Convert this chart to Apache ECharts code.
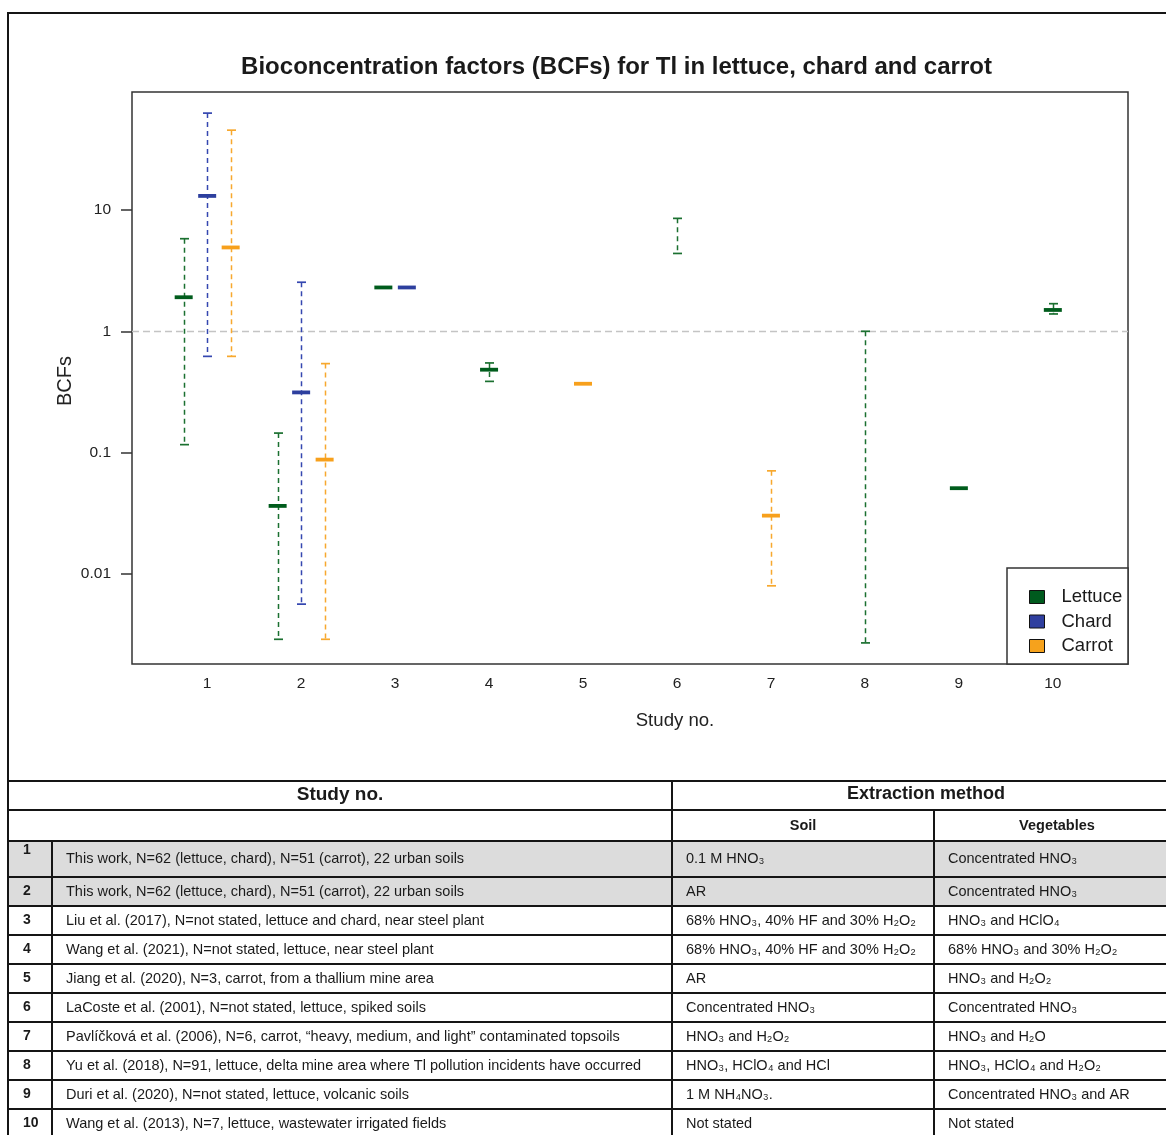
<!DOCTYPE html>
<html><head><meta charset="utf-8">
<script src="https://cdn.jsdelivr.net/npm/echarts@6/dist/echarts.min.js"></script>
<style>html,body{margin:0;padding:0;background:#fff}#c{width:1166px;height:1135px}</style>
</head><body><div id="c"></div>
<script>
// ---------------- DATA ----------------
const chartTitle = 'Bioconcentration factors (BCFs) for Tl in lettuce, chard and carrot';
const xAxisTitle = 'Study no.';
const yAxisTitle = 'BCFs';
const xTicks = [1, 2, 3, 4, 5, 6, 7, 8, 9, 10];
const yTicks = [0.01, 0.1, 1, 10];
const yTickLabels = ['0.01', '0.1', '1', '10'];
const seriesNames = ['Lettuce', 'Chard', 'Carrot'];

// position on the study axis, then low / central / high BCF (null = not reported)
const lettuceX    = [0.75, 1.75, 2.875, 4, 6, 8, 9, 10];
const lettuceLow  = [0.116, 0.00287, null, 0.386, 4.39, 0.00268, null, 1.39];
const lettuceMid  = [1.91, 0.0362, 2.30, 0.482, null, null, 0.0507, 1.50];
const lettuceHigh = [5.81, 0.1445, null, 0.548, 8.55, 1.0, null, 1.69];

const chardX    = [1, 2, 3.125];
const chardLow  = [0.621, 0.0056, null];
const chardMid  = [13.1, 0.313, 2.30];
const chardHigh = [63.2, 2.54, null];

const carrotX    = [1.25, 2.25, 5, 7];
const carrotLow  = [0.621, 0.00287, null, 0.00793];
const carrotMid  = [4.92, 0.0873, 0.369, 0.0301];
const carrotHigh = [45.7, 0.541, null, 0.0705];

const refLine = 1;

// table
const tableHeaderLeft = 'Study no.';
const tableHeaderRight = 'Extraction method';
const subHeaders = ['Soil', 'Vegetables'];
const studyNos = ['1', '2', '3', '4', '5', '6', '7', '8', '9', '10'];
const studyDesc = [
  'This work, N=62 (lettuce, chard), N=51 (carrot), 22 urban soils',
  'This work, N=62 (lettuce, chard), N=51 (carrot), 22 urban soils',
  'Liu et al. (2017), N=not stated, lettuce and chard, near steel plant',
  'Wang et al. (2021), N=not stated, lettuce, near steel plant',
  'Jiang et al. (2020), N=3, carrot, from a thallium mine area',
  'LaCoste et al. (2001), N=not stated, lettuce, spiked soils',
  'Pavlíčková et al. (2006), N=6, carrot, \u201Cheavy, medium, and light\u201D contaminated topsoils',
  'Yu et al. (2018), N=91, lettuce, delta mine area where Tl pollution incidents have occurred',
  'Duri et al. (2020), N=not stated, lettuce, volcanic soils',
  'Wang et al. (2013), N=7, lettuce, wastewater irrigated fields'
];
const soilMethod = [
  '0.1 M HNO₃', 'AR', '68% HNO₃, 40% HF and 30% H₂O₂', '68% HNO₃, 40% HF and 30% H₂O₂',
  'AR', 'Concentrated HNO₃', 'HNO₃ and H₂O₂', 'HNO₃, HClO₄ and HCl', '1 M NH₄NO₃.', 'Not stated'
];
const vegMethod = [
  'Concentrated HNO₃', 'Concentrated HNO₃', 'HNO₃ and HClO₄', '68% HNO₃ and 30% H₂O₂',
  'HNO₃ and H₂O₂', 'Concentrated HNO₃', 'HNO₃ and H₂O', 'HNO₃, HClO₄ and H₂O₂',
  'Concentrated HNO₃ and AR', 'Not stated'
];
const shadedRows = [0, 1];

// ---------------- STYLE / LAYOUT ----------------
const FONT = '"Liberation Sans", Arial, Helvetica, sans-serif';
const colors = {
  Lettuce: { bar: '#005c1c', whisker: '#1b7030', legend: '#005a1e' },
  Chard:   { bar: '#2d3f9e', whisker: '#3547b0', legend: '#2f3f9f' },
  Carrot:  { bar: '#f7a01c', whisker: '#f7a82e', legend: '#f6a21c' }
};

function pack(xs, lo, mid, hi) {
  return xs.map((x, i) => [x,
    lo[i] == null ? '-' : lo[i],
    mid[i] == null ? '-' : mid[i],
    hi[i] == null ? '-' : hi[i]]);
}

function makeRender(c) {
  return function (params, api) {
    const x = api.value(0), lo = api.value(1), mid = api.value(2), hi = api.value(3);
    const ch = [];
    if (!isNaN(lo) && !isNaN(hi)) {
      const pL = api.coord([x, lo]), pH = api.coord([x, hi]);
      const cx = Math.round(pL[0]) + 0.5;
      ch.push({ type: 'line', shape: { x1: cx, y1: pH[1], x2: cx, y2: pL[1] },
        style: { stroke: c.whisker, lineWidth: 1.5, lineDash: [5, 4], fill: null } });
      ch.push({ type: 'line', shape: { x1: cx - 4.5, y1: pH[1], x2: cx + 4.5, y2: pH[1] },
        style: { stroke: c.whisker, lineWidth: 1.7, fill: null } });
      ch.push({ type: 'line', shape: { x1: cx - 4.5, y1: pL[1], x2: cx + 4.5, y2: pL[1] },
        style: { stroke: c.whisker, lineWidth: 1.7, fill: null } });
    }
    if (!isNaN(mid)) {
      const p = api.coord([x, mid]);
      ch.push({ type: 'line', shape: { x1: p[0] - 9, y1: p[1], x2: p[0] + 9, y2: p[1] },
        style: { stroke: c.bar, lineWidth: 3.8, fill: null } });
    }
    return { type: 'group', children: ch };
  };
}

const seriesData = {
  Lettuce: pack(lettuceX, lettuceLow, lettuceMid, lettuceHigh),
  Chard: pack(chardX, chardLow, chardMid, chardHigh),
  Carrot: pack(carrotX, carrotLow, carrotMid, carrotHigh)
};

const series = seriesNames.map((name, si) => {
  const s = {
    type: 'custom', name: name, data: seriesData[name],
    encode: { x: 0, y: [1, 2, 3] },
    renderItem: makeRender(colors[name]),
    itemStyle: { color: colors[name].legend },
    z: 3, silent: true
  };
  if (si === 0) {
    s.markLine = {
      silent: true, symbol: ['none', 'none'], label: { show: false },
      lineStyle: { color: '#c4c4c4', type: [7, 4], width: 1.3 },
      data: [{ yAxis: refLine }], z: 1
    };
  }
  return s;
});

// ---------------- TABLE (graphic) ----------------
const g = [];
const LINE = '#151515';
const tblTop = 781, hdr2 = 810, rowTops = [841, 877, 906, 935, 964, 993, 1022, 1051, 1080, 1109], tblBottom = 1138;
const xL = 8, xNum = 52, xMid = 672, xSoil = 934, xR = 1180;
shadedRows.forEach(r => {
  g.push({ type: 'rect', shape: { x: xL, y: rowTops[r], width: xR - xL, height: rowTops[r + 1] - rowTops[r] },
    style: { fill: '#dcdcdc' }, z: 1 });
});
function hline(y, x1, x2, w) { g.push({ type: 'line', shape: { x1: x1, y1: y, x2: x2, y2: y }, style: { stroke: LINE, lineWidth: w || 2 }, z: 5 }); }
function vline(x, y1, y2, w) { g.push({ type: 'line', shape: { x1: x, y1: y1, x2: x, y2: y2 }, style: { stroke: LINE, lineWidth: w || 2 }, z: 5 }); }
// outer frame
hline(13, 7, 1166, 2);
vline(8, 12, 1135, 2);
hline(tblTop, xL, xR); hline(hdr2, xL, xR);
rowTops.forEach(y => hline(y, xL, xR));
hline(tblBottom, xL, xR);
vline(xNum, rowTops[0], tblBottom);
vline(xMid, tblTop, tblBottom);
vline(xSoil, hdr2, tblBottom);
function txt(s, x, y, size, bold, align, vAlign, color, rot) {
  g.push({ type: 'text', x: x, y: y, z: 6, rotation: rot || 0,
    style: { text: s, font: (bold ? 'bold ' : '') + size + 'px ' + FONT, fill: color || '#1a1a1a',
      align: align || 'left', verticalAlign: vAlign || 'middle' } });
}
txt(tableHeaderLeft, (xL + xMid) / 2, 795, 19, true, 'center');
txt(tableHeaderRight, (xMid + xR) / 2, 794, 18, true, 'center');
txt(subHeaders[0], (xMid + xSoil) / 2, 826, 14.5, true, 'center');
txt(subHeaders[1], (xSoil + xR) / 2, 826, 14.5, true, 'center');
studyNos.forEach((n, i) => {
  const yTop = rowTops[i], yBot = i < 9 ? rowTops[i + 1] : tblBottom;
  const yc = (yTop + yBot) / 2;
  txt(n, 23, i === 0 ? yTop + 9 : yc, 14, true, 'left');
  txt(studyDesc[i], 66, yc, 14.5, false, 'left');
  txt(soilMethod[i], 686, yc, 14.5, false, 'left');
  txt(vegMethod[i], 948, yc, 14.5, false, 'left');
});
// chart title, axis titles, legend frame
txt(chartTitle, 616.5, 67, 24, true, 'center');
txt(xAxisTitle, 675, 721, 18.6, false, 'center', 'middle', '#222');
txt(yAxisTitle, 65, 381, 20, false, 'center', 'middle', '#222', Math.PI / 2);
g.push({ type: 'rect', shape: { x: 1007, y: 568, width: 121, height: 96 },
  style: { fill: '#fff', stroke: '#333', lineWidth: 1.5 }, z: 4 });

// ---------------- CHART ----------------
const chart = echarts.init(document.getElementById('c'), null, { renderer: 'canvas' });
chart.setOption({
  animation: false,
  backgroundColor: '#fff',
  textStyle: { fontFamily: FONT },
  grid: { left: 132, top: 92, width: 996, height: 572, show: true, borderColor: '#333', borderWidth: 1.5, backgroundColor: 'transparent' },
  xAxis: {
    type: 'value', min: 0.2, max: 10.8,
    axisLine: { show: false }, axisTick: { show: false }, splitLine: { show: false },
    axisLabel: { customValues: xTicks, fontSize: 15.5, color: '#222', margin: 12, fontFamily: FONT }
  },
  yAxis: {
    type: 'log', logBase: 10, min: Math.pow(10, -2.746), max: Math.pow(10, 1.975),
    axisLine: { show: false }, splitLine: { show: false },
    axisTick: { show: true, length: 11, customValues: yTicks, lineStyle: { color: '#333', width: 1.5 } },
    axisLabel: {
      customValues: yTicks, fontSize: 15.5, color: '#222', margin: 21, fontFamily: FONT,
      formatter: function (v) {
        let best = 0, d = Infinity;
        yTicks.forEach((t, i) => { const dd = Math.abs(Math.log10(v) - Math.log10(t)); if (dd < d) { d = dd; best = i; } });
        return yTickLabels[best];
      }
    }
  },
  legend: {
    data: seriesNames.map(n => ({ name: n, icon: 'rect' })),
    orient: 'vertical', left: 1024, top: 582, itemWidth: 15, itemHeight: 13, itemGap: 4.5,
    itemStyle: { borderColor: '#111', borderWidth: 1 },
    textStyle: { fontSize: 18.5, color: '#1a1a1a', fontFamily: FONT, lineHeight: 20, padding: [0, 0, 0, 12] },
    selectedMode: false, z: 6
  },
  graphic: { elements: g },
  series: series
});
</script></body></html>
